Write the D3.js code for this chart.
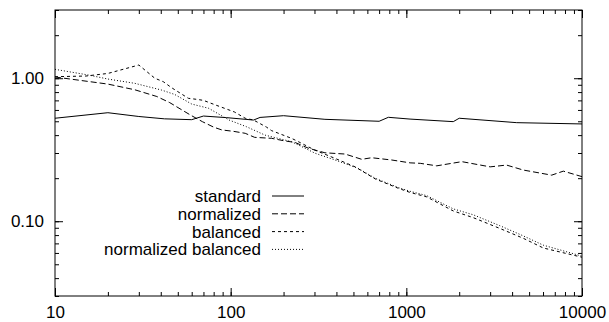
<!DOCTYPE html>
<html>
<head>
<meta charset="utf-8">
<script src="https://cdn.jsdelivr.net/npm/d3@7"></script>
<style>
  body { margin: 0; background: #fff; }
  text { font-family: "Liberation Sans", Arial, sans-serif; fill: #000; }
</style>
</head>
<body>
<svg width="609" height="322"></svg>
<script>
// tick values and labels
let xMajor = [10, 100, 1000, 10000];
let xLabels = ["10", "100", "1000", "10000"];
let yMajor = [1, 0.1];
let yLabels = ["1.00", "0.10"];

// series, [x, y] pairs
let seriesNames = ["standard", "normalized", "balanced", "normalized balanced"];
let standard = [[10,0.525],[20,0.574],[30,0.54],[42,0.52],[60,0.513],[70,0.544],[95,0.53],[135,0.51],[147,0.532],[200,0.547],[344,0.516],[700,0.50],[790,0.533],[1050,0.518],[1850,0.497],[2000,0.525],[4250,0.489],[10000,0.479]];
let normalized = [[10,1.02],[20,0.91],[28.5,0.83],[38,0.745],[45,0.675],[59,0.553],[69,0.497],[80,0.455],[89,0.435],[104,0.425],[121,0.412],[137,0.386],[171,0.38],[204,0.364],[232,0.356],[277,0.324],[344,0.301],[448,0.295],[557,0.271],[635,0.278],[826,0.268],[1050,0.256],[1200,0.254],[1490,0.244],[2070,0.261],[3000,0.24],[3720,0.247],[4630,0.228],[6720,0.21],[7830,0.224],[10000,0.205]];
let balanced = [[10,1.025],[15,1.036],[20,1.08],[30,1.237],[37,1.0],[41.4,0.945],[46,0.86],[57.4,0.724],[65,0.71],[70,0.70],[82,0.65],[105,0.581],[121,0.525],[135,0.51],[160,0.455],[171,0.43],[222,0.38],[243,0.36],[300,0.315],[393,0.275],[511,0.24],[663,0.198],[900,0.17],[1050,0.159],[1306,0.148],[1850,0.118],[2400,0.106],[3410,0.089],[4630,0.076],[6020,0.065],[10000,0.056]];
let normBalanced = [[10,1.154],[15.5,1.053],[20,0.987],[28.5,0.921],[40.5,0.826],[48,0.77],[60,0.66],[75,0.616],[98,0.51],[123,0.458],[157,0.40],[222,0.36],[265,0.324],[302,0.299],[393,0.268],[533,0.234],[663,0.20],[900,0.172],[1050,0.162],[1306,0.151],[1850,0.122],[2400,0.111],[3410,0.093],[4630,0.079],[6020,0.068],[10000,0.057]];

let allSeries = [standard, normalized, balanced, normBalanced];
let dashes = [null, "6,3", "3,3", "1,2"];

let svg = d3.select('svg');
let padLeft = 55, padRight = 582, padTop = 10, padBottom = 296;
let fontSize = 17;

let xScale = d3.scaleLog().domain([10, 10000]).range([padLeft, padRight]);
let yScale = d3.scaleLog().domain([0.03, 3]).range([padBottom, padTop]);

let xMinor = xScale.ticks();
let yMinor = yScale.ticks();

let drawAxis = (axis, tx, ty) => {
    let g = svg.append('g')
        .attr('transform', 'translate(' + tx + ',' + ty + ')')
        .call(axis);
    g.select('.domain').remove();
    g.selectAll('line').attr('stroke', '#000');
    g.selectAll('text').attr('font-size', fontSize).attr('font-family', null);
    return g;
}

// minor ticks, all four sides
drawAxis(d3.axisBottom(xScale).tickValues(xMinor).tickSize(-4).tickFormat(''), 0, padBottom);
drawAxis(d3.axisTop(xScale).tickValues(xMinor).tickSize(-4).tickFormat(''), 0, padTop);
drawAxis(d3.axisLeft(yScale).tickValues(yMinor).tickSize(-4).tickFormat(''), padLeft, 0);
drawAxis(d3.axisRight(yScale).tickValues(yMinor).tickSize(-4).tickFormat(''), padRight, 0);

// major ticks with labels
drawAxis(d3.axisBottom(xScale).tickValues(xMajor).tickSize(-8).tickPadding(10)
    .tickFormat((d, i) => xLabels[i]), 0, padBottom);
drawAxis(d3.axisTop(xScale).tickValues(xMajor).tickSize(-8).tickFormat(''), 0, padTop);
drawAxis(d3.axisLeft(yScale).tickValues(yMajor).tickSize(-8).tickPadding(11)
    .tickFormat((d, i) => yLabels[i]), padLeft, 0);
drawAxis(d3.axisRight(yScale).tickValues(yMajor).tickSize(-8).tickFormat(''), padRight, 0);

// frame
svg.append('rect')
    .attr('x', padLeft).attr('y', padTop)
    .attr('width', padRight - padLeft).attr('height', padBottom - padTop)
    .attr('fill', 'none').attr('stroke', '#000').attr('stroke-width', 1);

let line = d3.line()
    .x(d => xScale(d[0]))
    .y(d => yScale(d[1]));

svg.selectAll('path.series')
    .data(allSeries)
    .enter()
    .append('path')
    .attr('class', 'series')
    .attr('d', line)
    .attr('fill', 'none')
    .attr('stroke', '#000')
    .attr('stroke-width', 1)
    .attr('stroke-dasharray', (d, i) => dashes[i]);

// legend
let legend = svg.append('g').attr('transform', 'translate(261,196)');
seriesNames.forEach((name, i) => {
    let row = legend.append('g').attr('transform', 'translate(0,' + (i * 17.8) + ')');
    row.append('text')
        .attr('text-anchor', 'end')
        .attr('dy', '0.35em')
        .attr('font-size', fontSize)
        .text(name);
    row.append('line')
        .attr('x1', 11).attr('x2', 43)
        .attr('stroke', '#000')
        .attr('stroke-width', 1)
        .attr('stroke-dasharray', dashes[i]);
});
</script>
</body>
</html>
